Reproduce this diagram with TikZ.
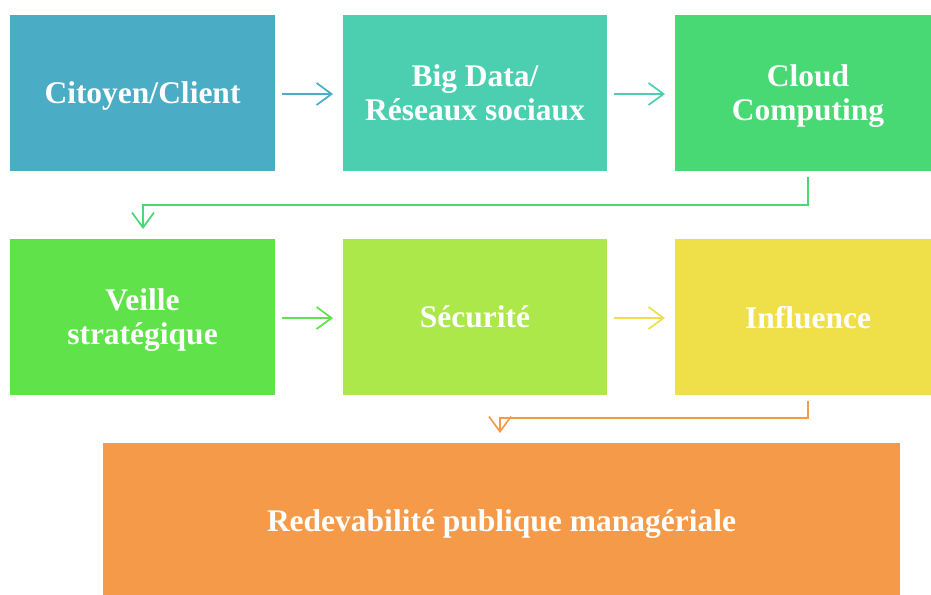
\documentclass[tikz,border=0pt]{standalone}
\usepackage{fontspec}
\setmainfont{Liberation Serif}
\usetikzlibrary{arrows.meta}
\definecolor{cA}{HTML}{4BACC6}
\definecolor{cB}{HTML}{4BCFB0}
\definecolor{cC}{HTML}{48D874}
\definecolor{cD}{HTML}{60E24A}
\definecolor{cE}{HTML}{ACE84A}
\definecolor{cF}{HTML}{EFE04A}
\definecolor{cG}{HTML}{F59A48}
\begin{document}
\begin{tikzpicture}[x=1pt,y=-1pt,
  box/.style={fill=#1,draw=none,text=white,font=\bfseries\fontsize{31.5}{34}\selectfont,align=center,inner sep=0pt,text depth=0pt},
  conn/.style={draw=#1,line width=1.7pt,-{Straight Barb[length=15pt,width=22pt,line width=1.7pt]}}]
\useasboundingbox (0,0) rectangle (931,594);
\fill[white] (0,0) rectangle (931,594);
\node[box=cA,minimum width=265pt,minimum height=156pt] (a) at (142.5,93) {};
\node[box=cB,minimum width=264pt,minimum height=156pt] (b) at (475,93) {};
\node[box=cC,minimum width=266pt,minimum height=156pt] (c) at (808,93) {};
\node[box=cD,minimum width=265pt,minimum height=156pt] (d) at (142.5,317) {};
\node[box=cE,minimum width=264pt,minimum height=156pt] (e) at (475,317) {};
\node[box=cF,minimum width=266pt,minimum height=156pt] (f) at (808,317) {};
\node[box=cG,minimum width=797pt,minimum height=156pt] (g) at (501.5,521) {};
\node[box=cA,fill=none] (ta) at (a.center) {Citoyen/Client};
\node[box=cB,fill=none] (tb) at (b.center) {Big Data/\\Réseaux sociaux};
\node[box=cC,fill=none] (tc) at (c.center) {Cloud\\Computing};
\node[box=cD,fill=none] (td) at (d.center) {Veille\\stratégique};
\node[box=cE,fill=none] (te) at (e.center) {Sécurité};
\node[box=cF,fill=none] (tf) at (f.center) {Influence};
\node[box=cG,fill=none] (tg) at (g.center) {Redevabilité publique managériale};
\coordinate (a1) at (282,94); \coordinate (a2) at (333,94);
\coordinate (b1) at (614,94); \coordinate (b2) at (665,94);
\coordinate (d1) at (282,318); \coordinate (d2) at (333,318);
\coordinate (e1) at (614,318); \coordinate (e2) at (665,318);
\draw[conn=cA] (a1) -- (a2);
\draw[conn=cB] (b1) -- (b2);
\draw[conn=cC] (808,177) -- (808,205) -- (143,205) -- (143,229);
\draw[conn=cD] (d1) -- (d2);
\draw[conn=cF] (e1) -- (e2);
\draw[conn=cG] (808,401) -- (808,418) -- (500,418) -- (500,433);
\end{tikzpicture}
\end{document}
